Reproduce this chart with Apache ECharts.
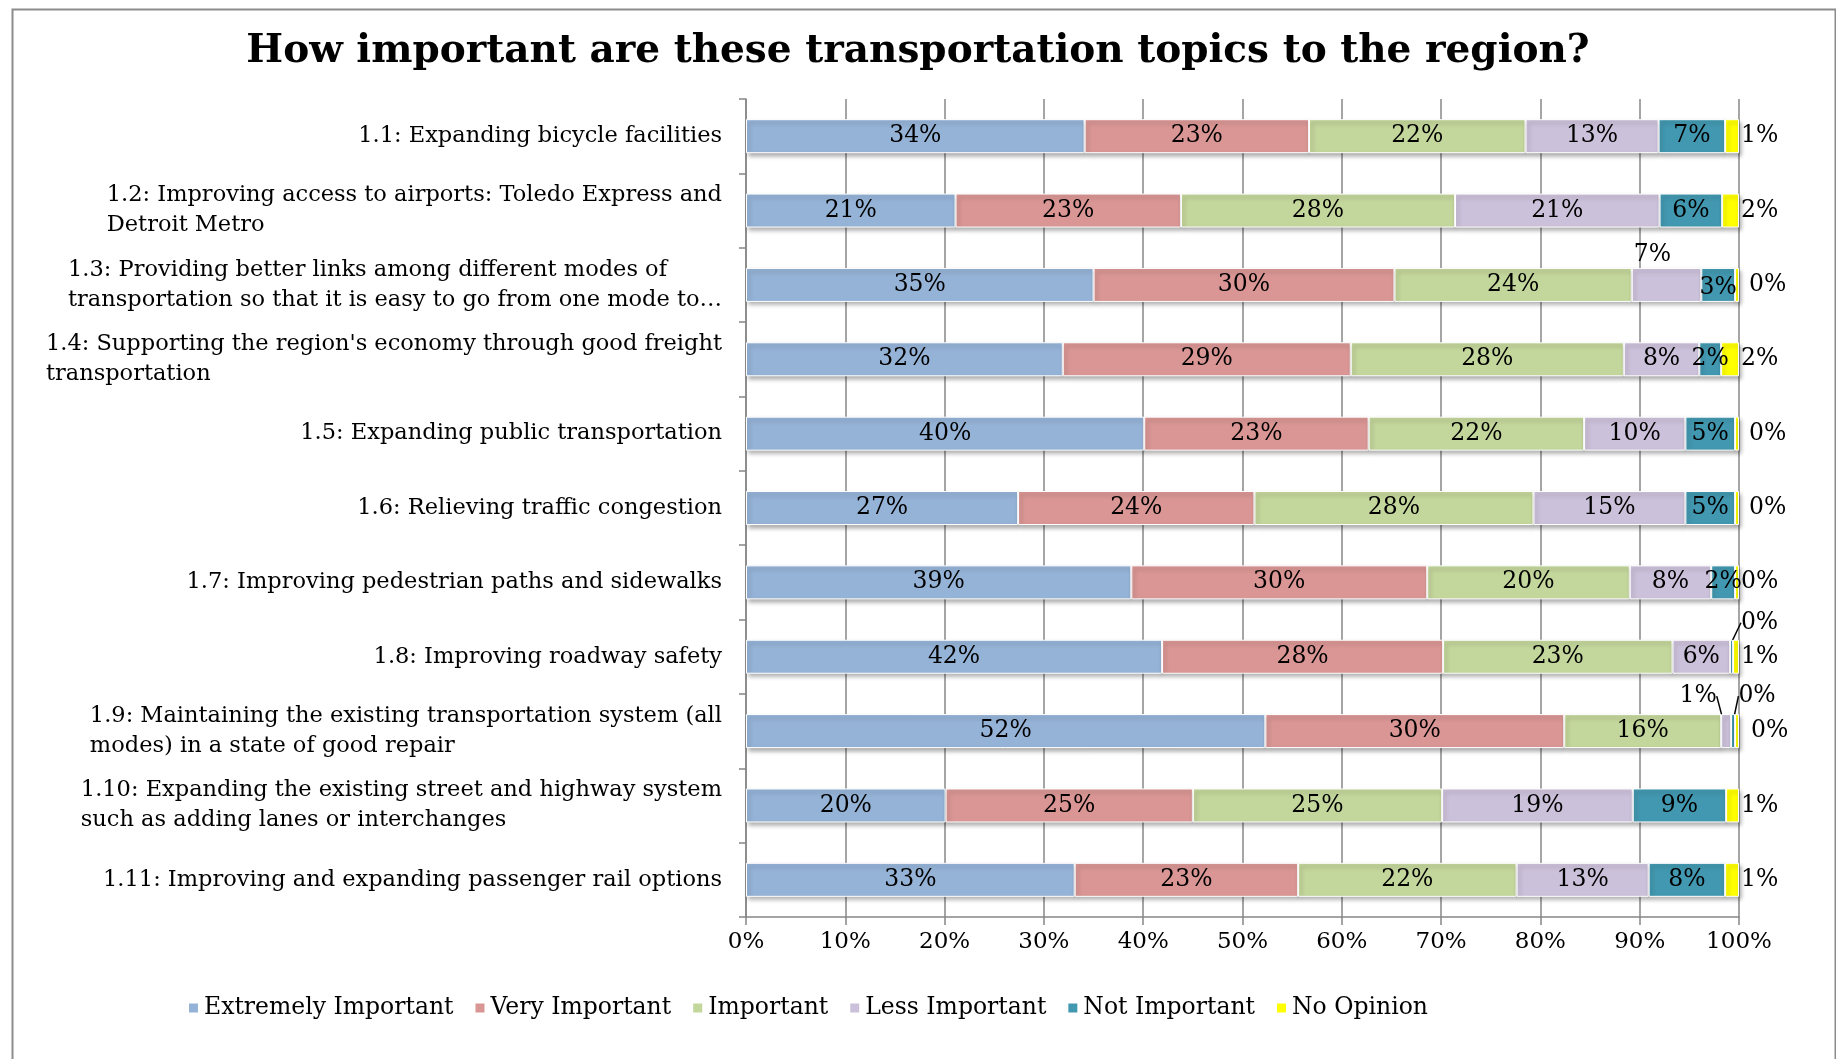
<!DOCTYPE html>
<html>
<head>
<meta charset="utf-8">
<script src="https://cdn.jsdelivr.net/npm/echarts@6/dist/echarts.min.js"></script>
<style>
  html, body { margin: 0; padding: 0; background: #fff; }
  #chart { width: 1836px; height: 1059px; }
</style>
</head>
<body>
<div id="chart"></div>
<script>
const categories = [
  '1.1: Expanding bicycle facilities',
  '1.2: Improving access to airports: Toledo Express and\nDetroit Metro',
  '1.3: Providing better links among different modes of\ntransportation so that it is easy to go from one mode to…',
  "1.4: Supporting the region's economy through good freight\ntransportation",
  '1.5: Expanding public transportation',
  '1.6: Relieving traffic congestion',
  '1.7: Improving pedestrian paths and sidewalks',
  '1.8: Improving roadway safety',
  '1.9: Maintaining the existing transportation system (all\nmodes) in a state of good repair',
  '1.10: Expanding the existing street and highway system\nsuch as adding lanes or interchanges',
  '1.11: Improving and expanding passenger rail options'
]

const seriesNames = ['Extremely Important', 'Very Important', 'Important', 'Less Important', 'Not Important', 'No Opinion']

const extremely = [34.1, 21.1, 35.0, 31.9, 40.1, 27.4, 38.8, 41.9, 52.3, 20.1, 33.1]
const very = [22.6, 22.7, 30.3, 29.0, 22.6, 23.8, 29.8, 28.3, 30.1, 24.9, 22.5]
const important = [21.8, 27.6, 23.9, 27.5, 21.7, 28.1, 20.4, 23.1, 15.8, 25.1, 22.0]
const less = [13.4, 20.6, 7.0, 7.6, 10.2, 15.3, 8.2, 5.8, 1.0, 19.2, 13.3]
const notImportant = [6.7, 6.3, 3.4, 2.2, 5.0, 5.0, 2.4, 0.3, 0.4, 9.4, 7.7]
const noOpinion = [1.4, 1.7, 0.4, 1.8, 0.4, 0.4, 0.4, 0.6, 0.4, 1.3, 1.4]

const xTicks = [0, 10, 20, 30, 40, 50, 60, 70, 80, 90, 100]

const colors = ['#95b3d7', '#d99694', '#c3d69b', '#ccc1da', '#4298b0', '#ffff00']
const FONT = 'DejaVu Serif'

// label moves for the crowded segments: "series-row" -> [dx, dy, leader line]
const labelMoves = {
  '3-2': [-14, -30, false],
  '4-2': [0, 3, false],
  '4-7': [28, -34, true],
  '3-8': [-28, -35, true],
  '4-8': [24, -35, true]
}
// extra gap for some "No Opinion" labels
const noOpGap = { 2: 10, 4: 10, 5: 10, 8: 12 }

const allValues = [extremely, very, important, less, notImportant, noOpinion]

const chart = echarts.init(document.getElementById('chart'))

const series = allValues.map((vals, si) => ({
  name: seriesNames[si],
  type: 'bar',
  stack: 'total',
  barWidth: 34,
  itemStyle: {
    color: colors[si],
    borderColor: '#fff',
    borderWidth: 1,
    shadowColor: 'rgba(0,0,0,0.3)',
    shadowBlur: 4,
    shadowOffsetX: 2,
    shadowOffsetY: 3
  },
  label: {
    show: true,
    position: si === 5 ? 'right' : 'inside',
    distance: 2,
    color: '#000',
    fontFamily: FONT,
    fontSize: 23.5,
    formatter: p => Math.round(p.value) + '%'
  },
  labelLayout: p => {
    const m = labelMoves[p.seriesIndex + '-' + p.dataIndex]
    return m ? { dx: m[0], dy: m[1] } : {}
  },
  data: vals.map((v, i) => {
    const item = { value: v }
    const m = labelMoves[si + '-' + i]
    if (m && m[2]) {
      item.labelLine = { show: true, lineStyle: { color: '#000', width: 1.5 } }
    }
    if (si === 5 && noOpGap[i]) {
      item.label = { distance: noOpGap[i] }
    }
    return item
  })
}))

const option = {
  backgroundColor: '#fff',
  animation: false,
  title: {
    text: 'How important are these transportation topics to the region?',
    left: 'center',
    top: 27,
    textStyle: { fontFamily: FONT, fontSize: 39, fontWeight: 'bold', color: '#000' }
  },
  graphic: [{
    type: 'rect',
    left: 10, top: 7,
    shape: { width: 1823, height: 1070 },
    style: { fill: 'none', stroke: '#8c8c8c', lineWidth: 2 },
    silent: true
  }],
  legend: {
    data: seriesNames,
    left: 182,
    top: 991,
    icon: 'rect',
    itemWidth: 11,
    itemHeight: 11,
    itemGap: 20,
    textStyle: { fontFamily: FONT, fontSize: 23.5, color: '#000' }
  },
  grid: { left: 746, right: 97, top: 99, bottom: 142 },
  xAxis: {
    type: 'value',
    min: xTicks[0],
    max: xTicks[xTicks.length - 1],
    interval: xTicks[1] - xTicks[0],
    axisLine: { show: true, lineStyle: { color: '#878787', width: 1.5 } },
    axisTick: { show: true, length: 8, lineStyle: { color: '#878787', width: 1.5 } },
    splitLine: { show: true, lineStyle: { color: '#878787', width: 1.5 } },
    axisLabel: {
      color: '#000', fontFamily: FONT, fontSize: 23, margin: 14,
      formatter: v => v + '%'
    }
  },
  yAxis: {
    type: 'category',
    inverse: true,
    data: categories,
    axisLine: { show: true, lineStyle: { color: '#878787', width: 1.5 } },
    axisTick: { show: true, length: 7, lineStyle: { color: '#878787', width: 1.5 } },
    axisLabel: {
      margin: 24,
      color: '#000',
      formatter: v => v.split('\n').map(l => '{a|' + l + '}').join('\n'),
      rich: {
        a: { align: 'left', fontFamily: FONT, fontSize: 22.5, color: '#000', lineHeight: 30 }
      }
    }
  },
  series: series
}

chart.setOption(option)
</script>
</body>
</html>
